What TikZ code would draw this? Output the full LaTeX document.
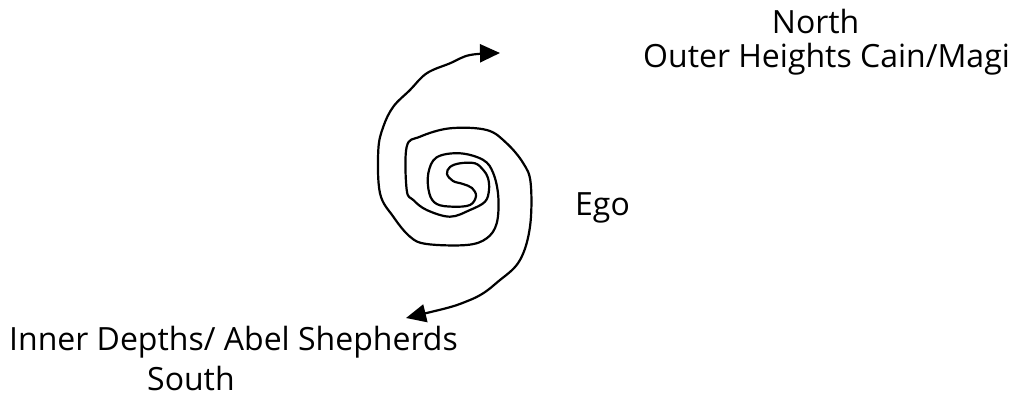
\documentclass[tikz,border=0pt]{standalone}
\usepackage{fontspec}
\newfontfamily\labelfont{Open Sans}
\usepackage{tikz}
\usetikzlibrary{arrows.meta}
\tikzset{>={Triangle[length=20pt,width=18pt]},
x=1pt, y=-1pt,
lbl/.style={font=\labelfont\fontsize{32}{38}\selectfont, inner sep=0pt, anchor=base west},
spiral/.style={draw, line width=2.2pt, <->, line join=round},
}

\begin{document}
\begin{tikzpicture}
	\useasboundingbox (0,0) rectangle (1018,396);

	\node[lbl] (north) at (771.7,34) {North};
	\node[lbl] (outer) at (643,67) {Outer Heights Cain/Magi};
	\node[lbl] (ego) at (575,215) {Ego};
	\node[lbl] (inner) at (9,350) {Inner Depths/ Abel Shepherds};
	\node[lbl] (south) at (147,390) {South};

	\coordinate (southtip) at (406,318);
	\coordinate (northtip) at (500,53);

	% double spiral, from the south tip in to the middle and out to the north tip
	\draw[spiral] plot[smooth, tension=0.6] coordinates {
		(southtip) (470,300) (500,280) (520,260) (530,226.7) (530.7,183.3)
		(523.3,163.3) (506.7,143.3) (486.7,130) (450,128.3) (420,136.7)
		(406.7,146.7) (406.7,190) (413.3,200) (426.7,210) (450,216.7)
		(470,210) (485,201.7) (489,190) (488,178) (483.3,170) (475,163.3)
		(460,163.3) (450,167) (447,174) (453,181) (463,184) (472,188)
		(476,196) (470,205) (453,206.7) (436.7,204) (429.3,193.3)
		(428.3,173.3) (436.7,157.3) (460,153.3) (483.3,160) (493.3,173.3)
		(498.3,196.7) (496.7,223.3) (486.7,238.3) (466.7,245) (426.7,244)
		(410,236.7) (393.3,216.7) (380,193.3) (378.3,150) (383.3,126.7)
		(393.3,106.7) (410,90) (426.7,73.3) (450,63.3) (470,55) (northtip)};
\end{tikzpicture}
\end{document}
